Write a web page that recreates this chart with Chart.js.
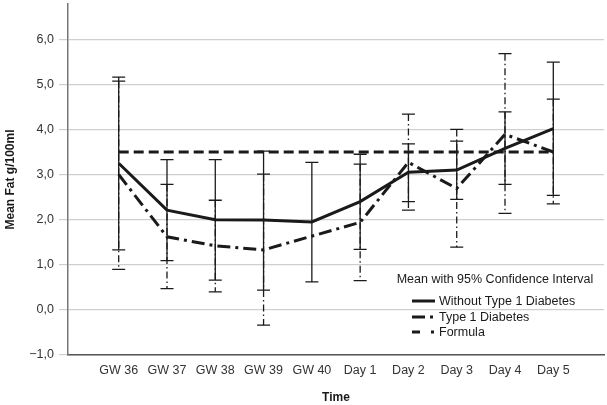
<!DOCTYPE html>
<html>
<head>
<meta charset="utf-8">
<script src="https://cdn.jsdelivr.net/npm/chart.js@4.4.1/dist/chart.umd.min.js"></script>
<style>
  html, body { margin: 0; padding: 0; background: #fff; }
  #wrap { width: 607px; height: 405px; position: relative; }
</style>
</head>
<body>
<div id="wrap"><canvas id="fatChart"></canvas></div>
<script>
const categories = ["GW 36", "GW 37", "GW 38", "GW 39", "GW 40", "Day 1", "Day 2", "Day 3", "Day 4", "Day 5"];

const withoutMean = [3.25, 2.21, 2.0, 1.99, 1.95, 2.4, 3.05, 3.1, 3.58, 4.02];
const withoutLow = [1.33, 1.09, 0.66, 0.44, 0.62, 1.34, 2.4, 2.45, 2.78, 2.54];
const withoutHigh = [5.16, 3.33, 3.33, 3.52, 3.27, 3.45, 3.68, 3.74, 4.39, 5.49];

const t1dMean = [3.0, 1.62, 1.42, 1.33, null, 1.94, 3.27, 2.69, 3.89, 3.5];
const t1dLow = [0.9, 0.47, 0.4, -0.34, null, 0.65, 2.21, 1.39, 2.14, 2.35];
const t1dHigh = [5.07, 2.78, 2.43, 3.01, null, 3.23, 4.34, 4.0, 5.68, 4.67];

const formulaMean = [3.5, 3.5, 3.5, 3.5, 3.5, 3.5, 3.5, 3.5, 3.5, 3.5];

const yTicks = [-1, 0, 1, 2, 3, 4, 5, 6];

const legendTitle = "Mean with 95% Confidence Interval";
const seriesNames = ["Without Type 1 Diabetes", "Type 1 Diabetes", "Formula"];

const FONT = "'Liberation Sans', Arial, Helvetica, sans-serif";
const INK = "#1a1a1a";
const dashT1d = [13, 5, 3, 5];
const dashFormula = [10, 5];

function toPoints(values) {
  return values.map((v, i) => ({ x: i, y: v }));
}

function formatTick(value) {
  const s = Math.abs(value).toFixed(1).replace(".", ",");
  return value < 0 ? "\u2212" + s : s;
}

const errorBarPlugin = {
  id: "errorBars",
  beforeDatasetsDraw(chart) {
    const { ctx, scales } = chart;
    const x = scales.x;
    const y = scales.y;
    const cap = 6.5;
    const groups = [
      { low: withoutLow, high: withoutHigh, dash: [] },
      { low: t1dLow, high: t1dHigh, dash: [7, 3, 1.5, 3] },
    ];
    ctx.save();
    ctx.strokeStyle = INK;
    ctx.lineWidth = 1.3;
    groups.forEach((g) => {
      categories.forEach((c, i) => {
        if (g.low[i] == null) return;
        const px = x.getPixelForValue(i);
        const yl = y.getPixelForValue(g.low[i]);
        const yh = y.getPixelForValue(g.high[i]);
        ctx.setLineDash(g.dash);
        ctx.beginPath();
        ctx.moveTo(px, yh);
        ctx.lineTo(px, yl);
        ctx.stroke();
        ctx.setLineDash([]);
        ctx.beginPath();
        ctx.moveTo(px - cap, yh);
        ctx.lineTo(px + cap, yh);
        ctx.moveTo(px - cap, yl);
        ctx.lineTo(px + cap, yl);
        ctx.stroke();
      });
    });
    ctx.restore();
  },
};

const legendPlugin = {
  id: "spssLegend",
  afterDraw(chart) {
    const { ctx } = chart;
    ctx.save();
    ctx.fillStyle = INK;
    ctx.font = "12.5px " + FONT;
    ctx.textBaseline = "middle";
    ctx.textAlign = "center";
    ctx.fillText(legendTitle, 495, 280);
    ctx.textAlign = "left";
    const rows = [
      { y: 302, dash: [] },
      { y: 318, dash: [13, 5, 3, 5] },
      { y: 333, dash: [8, 11, 3, 10] },
    ];
    rows.forEach((r, i) => {
      ctx.strokeStyle = INK;
      ctx.lineWidth = 3;
      ctx.setLineDash(r.dash);
      ctx.beginPath();
      ctx.moveTo(412, r.y - 1);
      ctx.lineTo(435, r.y - 1);
      ctx.stroke();
      ctx.setLineDash([]);
      ctx.fillText(seriesNames[i], 439, r.y);
    });
    ctx.restore();
  },
};

new Chart(document.getElementById("fatChart"), {
  type: "line",
  data: {
    datasets: [
      {
        label: seriesNames[0],
        data: toPoints(withoutMean),
        borderColor: INK,
        borderWidth: 3,
        pointRadius: 0,
        tension: 0,
      },
      {
        label: seriesNames[1],
        data: toPoints(t1dMean),
        borderColor: INK,
        borderWidth: 3,
        borderDash: dashT1d,
        pointRadius: 0,
        tension: 0,
        spanGaps: true,
      },
      {
        label: seriesNames[2],
        data: toPoints(formulaMean),
        borderColor: INK,
        borderWidth: 3,
        borderDash: dashFormula,
        pointRadius: 0,
        tension: 0,
      },
    ],
  },
  options: {
    responsive: true,
    maintainAspectRatio: false,
    animation: false,
    layout: { padding: { top: 4, right: 3, left: 0, bottom: 0 } },
    plugins: {
      legend: { display: false },
      tooltip: { enabled: false },
    },
    scales: {
      x: {
        type: "linear",
        min: -1.05,
        max: 10.05,
        afterBuildTicks: (scale) => {
          scale.ticks = categories.map((c, i) => ({ value: i }));
        },
        afterFit: (scale) => {
          scale.height = 50;
          scale.paddingLeft = 0;
          scale.paddingRight = 0;
        },
        grid: { display: false, drawTicks: false },
        border: { display: true, color: "#555", width: 1.5 },
        ticks: {
          padding: 8,
          autoSkip: false,
          maxRotation: 0,
          color: "#333",
          font: { family: FONT, size: 12.5 },
          callback: (value) => categories[value] ?? "",
        },
        title: {
          display: true,
          text: "Time",
          color: INK,
          font: { family: FONT, size: 12, weight: "bold" },
          padding: { top: 0, bottom: 0 },
        },
      },
      y: {
        min: -1,
        max: 6.78,
        afterBuildTicks: (scale) => {
          scale.ticks = yTicks.map((v) => ({ value: v }));
        },
        afterFit: (scale) => {
          scale.width = 68;
          scale.paddingTop = 0;
          scale.paddingBottom = 0;
        },
        grid: { color: "#cfcfcf", lineWidth: 1.2, tickLength: 9 },
        border: { display: true, color: "#777", width: 1.5 },
        ticks: {
          padding: 5,
          color: "#333",
          font: { family: FONT, size: 12.5 },
          callback: (value) => formatTick(value),
        },
        title: {
          display: true,
          text: "Mean Fat g/100ml",
          color: INK,
          font: { family: FONT, size: 12, weight: "bold" },
          padding: { top: 3, bottom: 0 },
        },
      },
    },
  },
  plugins: [errorBarPlugin, legendPlugin],
});
</script>
</body>
</html>
